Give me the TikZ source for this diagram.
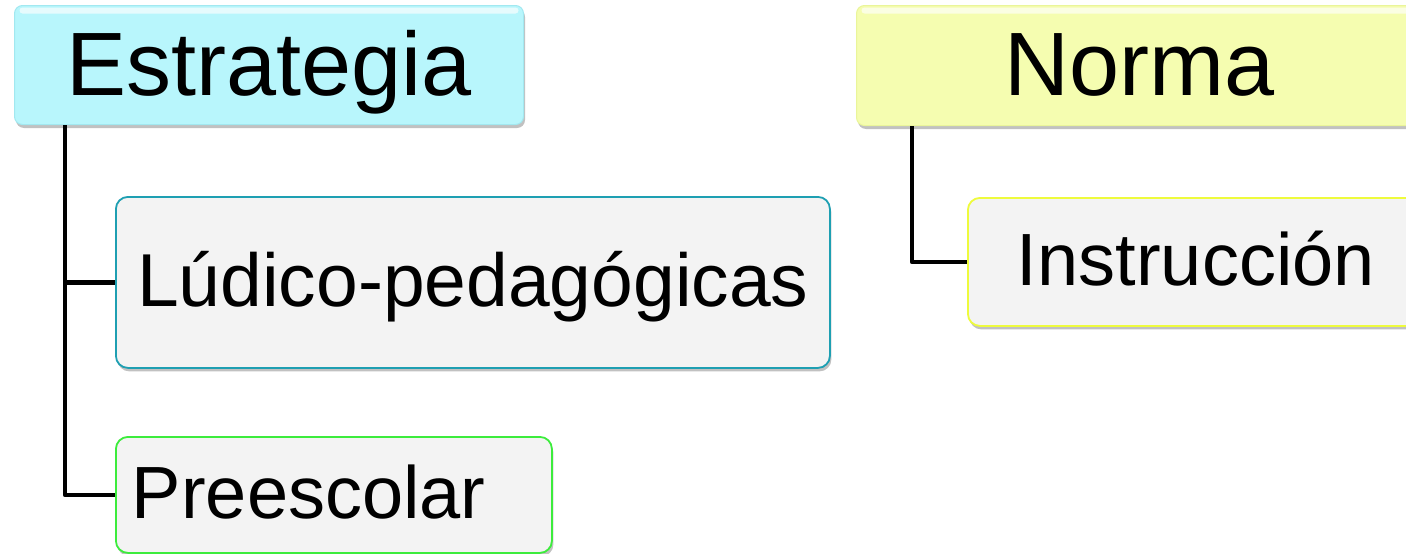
\documentclass[tikz,border=0pt]{standalone}
\usepackage{fontspec}
\setmainfont{Liberation Sans}
\usetikzlibrary{shadows}
\definecolor{cyanfill}{HTML}{B8F6FC}
\definecolor{cyanline}{HTML}{A2E8F0}
\definecolor{yelfill}{HTML}{F5FDB0}
\definecolor{yelline}{HTML}{EAF59A}
\definecolor{boxgray}{HTML}{F3F3F3}
\definecolor{tealline}{HTML}{1E9FB2}
\definecolor{greenline}{HTML}{3CEC3C}
\definecolor{yellowline}{HTML}{EEFB3C}
\begin{document}
\begin{tikzpicture}[x=1pt,y=-1pt,
  shade/.style={drop shadow={shadow xshift=1.5pt,shadow yshift=-3.5pt,opacity=0.35,fill=black!70}},
  hbox/.style={draw=#1, line width=1pt, rounded corners=8pt, inner sep=0pt,
    text height=60pt, text depth=0pt, align=center,
    font=\fontsize{90}{100}\selectfont, shade,
    path picture={\fill[white,opacity=0.65,rounded corners=3pt]
      ([xshift=5pt,yshift=-2pt]path picture bounding box.north west) rectangle
      ([xshift=-5pt,yshift=-8pt]path picture bounding box.north east);}},
  cbox/.style={draw=#1, line width=1.8pt, fill=boxgray, rounded corners=12pt, inner sep=0pt,
    text height=48pt, text depth=0pt, font=\fontsize{74}{84}\selectfont, shade},
  conn/.style={line width=4.5pt, draw=black, line join=round}]
\useasboundingbox (0,0) rectangle (1406,554);
\clip (0,0) rectangle (1406,554);

\node[hbox=cyanline, fill=cyanfill, anchor=north west, minimum width=509pt, minimum height=119pt,
  text width=509pt] (estr) at (14,5) {Estrategia};
\node[hbox=yelline, fill=yelfill, anchor=north west, minimum width=566pt, minimum height=120pt,
  text width=566pt] (norma) at (856,5) {Norma};

\node[cbox=tealline, anchor=north west, minimum width=714pt, minimum height=171pt,
  text width=714pt, align=center, font=\fontsize{75}{85}\selectfont] (lud) at (115,196) {Lúdico-pedagógicas};
\node[cbox=greenline, anchor=north west, minimum width=436pt, minimum height=116pt,
  inner xsep=16pt, text width=404pt, align=left] (pre) at (115,436) {Preescolar};
\node[cbox=yellowline, anchor=north west, minimum width=456pt, minimum height=128pt,
  text width=456pt, align=center] (inst) at (967,197) {Instrucción};

\draw[conn] ([xshift=51pt]estr.south west) |- (lud.west);
\draw[conn] ([xshift=51pt]estr.south west) |- (pre.west);
\draw[conn] ([xshift=56pt]norma.south west) |- (inst.west);
\end{tikzpicture}
\end{document}
